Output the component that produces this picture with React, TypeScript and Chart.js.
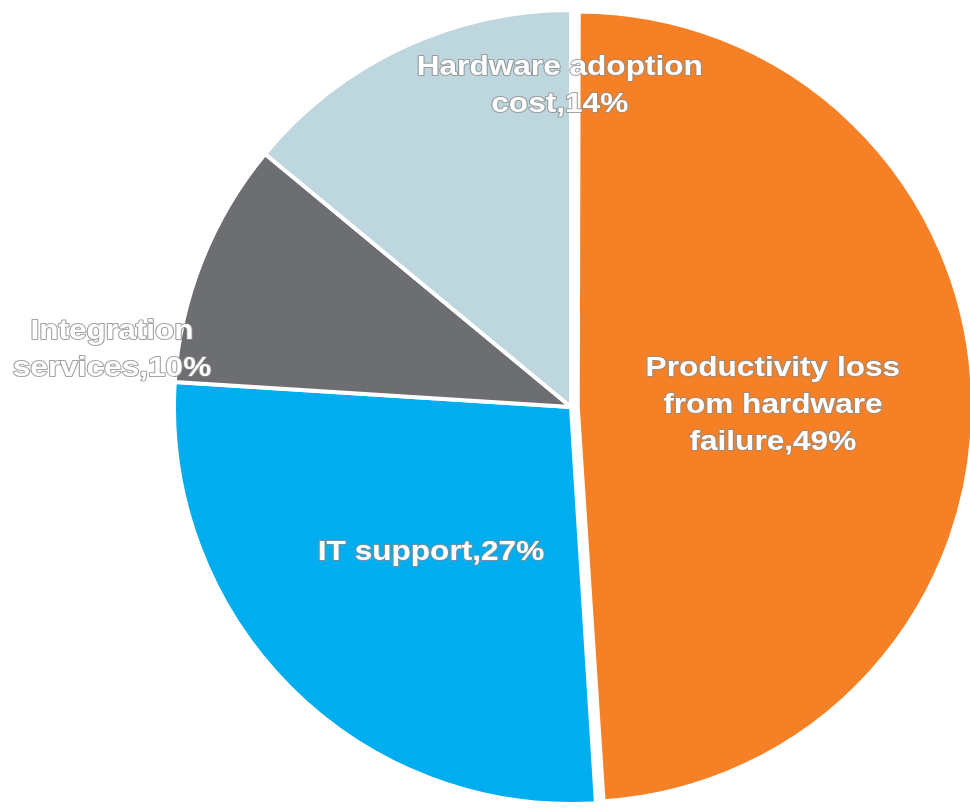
import React, { useEffect, useRef } from "react";
import { Chart, registerables } from "chart.js";

Chart.register(...registerables);

// ---- data ----
const categories: string[] = [
  "Productivity loss from hardware failure",
  "IT support",
  "Integration services",
  "Hardware adoption cost",
];
const shares: number[] = [49, 27, 10, 14];
const sliceColors: string[] = ["#F58025", "#00AEEF", "#6D6E71", "#BED7DF"];
const labelLines: string[][] = [
  ["Productivity loss", "from hardware", "failure"],
  ["IT support"],
  ["Integration", "services"],
  ["Hardware adoption", "cost"],
];
// label placement: polar angle (deg) and radius fraction from the pie centre
const labelAngles: number[] = [-0.3, 133.8, 187.1, 268.0];
const labelRadii: number[] = [0.511, 0.512, 1.171, 0.814];
const explode: number[] = [27, 0, 0, 0];

const PIE_RADIUS = 397;

const labelPlugin = {
  id: "sliceLabels",
  beforeDatasetsDraw(chart: any) {
    const meta = chart.getDatasetMeta(0);
    // orange (exploded) slice is drawn a little smaller
    if (meta.data[0]) meta.data[0].outerRadius = PIE_RADIUS - 8;
  },
  afterDatasetsDraw(chart: any) {
    const ctx: CanvasRenderingContext2D = chart.ctx;
    const meta = chart.getDatasetMeta(0);
    const arc0 = meta.data[1];
    const cx = arc0.x;
    const cy = arc0.y;
    const r = PIE_RADIUS - 2;
    const lineH = 37;
    ctx.save();
    ctx.font = 'bold 27px "Liberation Sans", Arial, sans-serif';
    ctx.textAlign = "center";
    ctx.textBaseline = "middle";
    ctx.lineJoin = "round";
    labelLines.forEach((lines, i) => {
      const text = lines.slice();
      text[text.length - 1] = text[text.length - 1] + "," + shares[i] + "%";
      const a = (labelAngles[i] * Math.PI) / 180;
      const x = cx + Math.cos(a) * r * labelRadii[i];
      const y = cy + Math.sin(a) * r * labelRadii[i];
      text.forEach((t, j) => {
        const ly = y + (j - (text.length - 1) / 2) * lineH;
        ctx.save();
        ctx.translate(x, ly);
        ctx.scale(1.17, 1);
        ctx.strokeStyle = "rgba(140,140,140,0.8)";
        ctx.lineWidth = 2;
        ctx.strokeText(t, 0, 0);
        ctx.fillStyle = "#FFFFFF";
        ctx.fillText(t, 0, 0);
        ctx.restore();
      });
    });
    ctx.restore();
  },
};

export default function App() {
  const ref = useRef<HTMLCanvasElement | null>(null);
  useEffect(() => {
    if (!ref.current) return;
    const chart = new Chart(ref.current, {
      type: "pie",
      data: {
        labels: categories,
        datasets: [
          {
            data: shares,
            backgroundColor: sliceColors,
            borderColor: "#FFFFFF",
            borderWidth: 4,
            offset: explode,
          },
        ],
      },
      options: {
        responsive: false,
        animation: false,
        radius: PIE_RADIUS,
        layout: { padding: { left: 172, right: 0, top: 6, bottom: 0 } },
        plugins: {
          legend: { display: false },
          tooltip: { enabled: false },
        },
      } as any,
      plugins: [labelPlugin],
    });
    return () => chart.destroy();
  }, []);
  return (
    <div style={{ position: "absolute", left: 0, top: 0, width: 970, height: 808, background: "#fff" }}>
      <canvas ref={ref} width={970} height={808} style={{ display: "block" }} />
    </div>
  );
}
